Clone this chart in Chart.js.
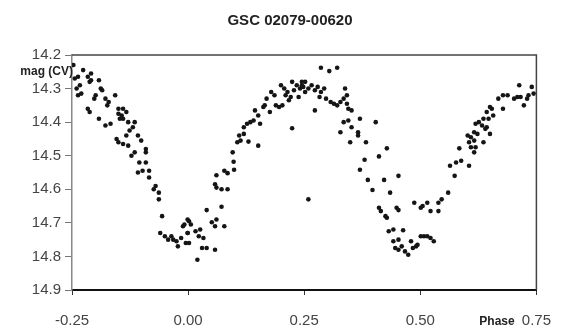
<!DOCTYPE html>
<html>
<head>
<meta charset="utf-8">
<script src="https://cdn.jsdelivr.net/npm/chart.js@4"></script>
<style>
  html, body { margin: 0; padding: 0; background: #fff; }
  #wrap { width: 568px; height: 327px; position: relative; }
</style>
</head>
<body>
<div id="wrap"><canvas id="lc"></canvas></div>
<script>
// ── DATA ──────────────────────────────────────────────────────────────────────

var chartTitle = 'GSC 02079-00620';
var yTitle = 'mag (CV)';
var xTitle = 'Phase';

// phase / magnitude pairs (same order)
var phase = [
  -0.247, -0.244, -0.237, -0.226, -0.233, -0.240, -0.237, -0.230, -0.216, -0.209,
  -0.209, -0.212, -0.192, -0.188, -0.185, -0.199, -0.202, -0.178, -0.171, -0.174,
  -0.157, -0.216, -0.212, -0.192, -0.178, -0.167, -0.150, -0.150, -0.143, -0.140,
  -0.133, -0.147, -0.140, -0.129, -0.115, -0.119, -0.126, -0.133, -0.154, -0.150,
  -0.140, -0.129, -0.108, -0.101, -0.091, -0.091, -0.115, -0.122, -0.105, -0.091,
  -0.108, -0.098, -0.084, -0.084, -0.070, -0.074, -0.063, -0.063, -0.056, -0.060,
  -0.050, -0.043, -0.036, -0.032, -0.025, -0.022, -0.015, -0.011, -0.008, -0.001,
  0.002, -0.005,
  -0.001, 0.006, -0.001, 0.002, 0.016, 0.023, 0.026, 0.033, 0.030, 0.040,
  0.020, 0.058, 0.040, 0.072, 0.051, 0.058, 0.061, 0.078, 0.058, 0.061,
  0.072, 0.085, 0.061, 0.078, 0.085, 0.099, 0.098, 0.096, 0.106, 0.113,
  0.130, 0.151, 0.110, 0.120, 0.120, 0.127, 0.134, 0.141, 0.155, 0.144,
  0.151, 0.162, 0.169, 0.165, 0.176, 0.179, 0.186, 0.189, 0.196, 0.203,
  0.200, 0.207, 0.210, 0.217, 0.224, 0.228, 0.234, 0.241, 0.238, 0.245,
  0.248, 0.252, 0.224, 0.214, 0.221,
  0.286, 0.304, 0.321, 0.245, 0.252, 0.259, 0.266, 0.273, 0.279, 0.286,
  0.293, 0.283, 0.297, 0.307, 0.314, 0.321, 0.328, 0.335, 0.342, 0.345,
  0.338, 0.342, 0.273, 0.352, 0.335, 0.345, 0.352, 0.370, 0.366, 0.366,
  0.328, 0.349, 0.383, 0.404, 0.428, 0.380, 0.411, 0.370, 0.387, 0.422,
  0.453, 0.397, 0.435, 0.259, 0.411, 0.415, 0.425, 0.428, 0.449, 0.453,
  0.487, 0.501, 0.432, 0.442, 0.463, 0.446, 0.453, 0.460, 0.467, 0.474,
  0.480, 0.484, 0.491, 0.501, 0.442, 0.453,
  0.494, 0.508, 0.515, 0.522, 0.529, 0.505, 0.515, 0.522, 0.539, 0.539,
  0.546, 0.560, 0.574, 0.564, 0.577, 0.588, 0.605, 0.584, 0.609, 0.616,
  0.619, 0.605, 0.602, 0.609, 0.616, 0.636, 0.623, 0.616, 0.619, 0.626,
  0.633, 0.640, 0.650, 0.643, 0.647, 0.636, 0.643, 0.654, 0.657, 0.650,
  0.668, 0.678, 0.688, 0.678, 0.702, 0.709, 0.716, 0.723, 0.733, 0.740,
  0.744, 0.713, 0.730
];
var mag = [
  14.230, 14.270, 14.265, 14.245, 14.290, 14.300, 14.320, 14.315, 14.265, 14.255,
  14.275, 14.280, 14.275, 14.300, 14.305, 14.320, 14.330, 14.330, 14.340, 14.350,
  14.320, 14.360, 14.370, 14.390, 14.410, 14.405, 14.360, 14.375, 14.380, 14.360,
  14.370, 14.390, 14.390, 14.400, 14.400, 14.415, 14.425, 14.440, 14.450, 14.460,
  14.465, 14.470, 14.440, 14.455, 14.480, 14.490, 14.490, 14.500, 14.520, 14.520,
  14.550, 14.545, 14.545, 14.565, 14.590, 14.600, 14.610, 14.630, 14.680, 14.730,
  14.740, 14.750, 14.740, 14.750, 14.755, 14.770, 14.745, 14.710, 14.705, 14.730,
  14.695, 14.760,
  14.690, 14.705, 14.730, 14.760, 14.725, 14.740, 14.720, 14.745, 14.775, 14.775,
  14.810, 14.780, 14.662, 14.652, 14.698, 14.710, 14.690, 14.710, 14.585, 14.595,
  14.600, 14.600, 14.558, 14.545, 14.552, 14.542, 14.518, 14.490, 14.460, 14.455,
  14.458, 14.470, 14.440, 14.435, 14.415, 14.405, 14.400, 14.395, 14.405, 14.365,
  14.380, 14.355, 14.330, 14.350, 14.370, 14.310, 14.320, 14.350, 14.355, 14.350,
  14.290, 14.300, 14.320, 14.335, 14.280, 14.305, 14.290, 14.300, 14.325, 14.280,
  14.295, 14.310, 14.418, 14.310, 14.325,
  14.238, 14.248, 14.238, 14.290, 14.280, 14.300, 14.290, 14.305, 14.295, 14.310,
  14.300, 14.325, 14.330, 14.340, 14.345, 14.350, 14.340, 14.330, 14.345, 14.360,
  14.300, 14.320, 14.365, 14.365, 14.400, 14.395, 14.415, 14.390, 14.430, 14.440,
  14.430, 14.460, 14.460, 14.400, 14.478, 14.512, 14.502, 14.542, 14.572, 14.572,
  14.560, 14.602, 14.610, 14.630, 14.655, 14.665, 14.680, 14.685, 14.655, 14.662,
  14.640, 14.655, 14.725, 14.720, 14.722, 14.775, 14.780, 14.770, 14.785, 14.795,
  14.755, 14.775, 14.770, 14.740, 14.755, 14.750,
  14.765, 14.740, 14.740, 14.745, 14.755, 14.650, 14.640, 14.665, 14.665, 14.640,
  14.630, 14.610, 14.560, 14.530, 14.520, 14.515, 14.530, 14.478, 14.475, 14.490,
  14.475, 14.460, 14.440, 14.445, 14.455, 14.460, 14.435, 14.430, 14.405, 14.400,
  14.410, 14.420, 14.435, 14.415, 14.390, 14.390, 14.370, 14.360, 14.380, 14.355,
  14.330, 14.320, 14.320, 14.360, 14.330, 14.325, 14.325, 14.350, 14.320, 14.295,
  14.315, 14.290, 14.330
];

var xTicks = [-0.25, 0, 0.25, 0.5, 0.75];
var yTicks = [14.2, 14.3, 14.4, 14.5, 14.6, 14.7, 14.8, 14.9];

// ── CHART ─────────────────────────────────────────────────────────────────────

var points = phase.map(function(p, i) { return { x: p, y: mag[i] }; });

// box round the plot plus the two axis captions
var frameAndCaptions = {
  id: 'frameAndCaptions',
  afterDraw: function(chart) {
    var ctx = chart.ctx, a = chart.chartArea;
    ctx.save();
    ctx.strokeStyle = '#444';
    ctx.lineWidth = 1.5;
    ctx.beginPath();
    ctx.moveTo(a.left, a.top);
    ctx.lineTo(a.right, a.top);
    ctx.lineTo(a.right, a.bottom);
    ctx.stroke();
    ctx.fillStyle = '#222';
    ctx.font = 'bold 12px "Liberation Sans", Arial, sans-serif';
    ctx.textAlign = 'right';
    ctx.textBaseline = 'middle';
    ctx.fillText(yTitle, a.left + 1, 72);
    ctx.textAlign = 'center';
    ctx.fillText(xTitle, 497, 322);
    ctx.restore();
  }
};

new Chart(document.getElementById('lc'), {
  type: 'scatter',
  data: {
    datasets: [{
      label: chartTitle,
      data: points,
      backgroundColor: '#151515',
      borderColor: '#151515',
      pointRadius: 2.3,
      pointBorderWidth: 0,
    }],
  },
  options: {
    responsive: true,
    maintainAspectRatio: false,
    animation: false,
    layout: { padding: { left: 27, right: 15, top: 0, bottom: 0 } },
    plugins: {
      legend: { display: false },
      tooltip: { enabled: false },
      title: {
        display: true,
        text: chartTitle,
        color: '#222',
        font: { family: '"Liberation Sans", Arial, sans-serif', size: 15, weight: 'bold' },
        padding: { top: 12, bottom: 25 },
      },
    },
    scales: {
      x: {
        type: 'linear',
        min: -0.25,
        max: 0.75,
        afterBuildTicks: function(ax) { ax.ticks = xTicks.map(function(v) { return { value: v }; }); },
        afterFit: function(ax) { ax.height = 37; },
        ticks: {
          color: '#444',
          padding: 17,
          font: { family: '"Liberation Sans", Arial, sans-serif', size: 15 },
          callback: function(v) { return v.toFixed(2); },
        },
        grid: { drawOnChartArea: false, drawTicks: true, tickLength: 5, color: '#333' },
        border: { color: '#111', width: 2 },
      },
      y: {
        type: 'linear',
        reverse: true,
        min: 14.2,
        max: 14.9,
        afterBuildTicks: function(ax) { ax.ticks = yTicks.map(function(v) { return { value: v }; }); },
        afterFit: function(ax) { ax.width = 45; },
        ticks: {
          color: '#444',
          padding: 4,
          font: { family: '"Liberation Sans", Arial, sans-serif', size: 15 },
          callback: function(v) { return v.toFixed(1); },
        },
        grid: { drawOnChartArea: false, drawTicks: true, tickLength: 7, color: '#777' },
        border: { color: '#888', width: 1.5 },
      },
    },
  },
  plugins: [frameAndCaptions],
});
</script>
</body>
</html>
